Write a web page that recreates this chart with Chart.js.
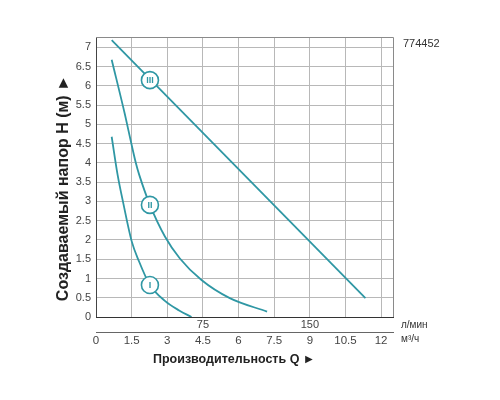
<!DOCTYPE html>
<html><head><meta charset="utf-8">
<script src="https://cdn.jsdelivr.net/npm/chart.js@4/dist/chart.umd.min.js"></script>
<style>html,body{margin:0;padding:0;background:#fff}#wrap{width:500px;height:400px}</style>
</head><body><div id="wrap"><canvas id="c" width="500" height="400"></canvas></div>
<script>
// ---- data ----
const qTicks = [0, 1.5, 3, 4.5, 6, 7.5, 9, 10.5, 12];          // m³/h
const hTicks = [0, 0.5, 1, 1.5, 2, 2.5, 3, 3.5, 4, 4.5, 5, 5.5, 6, 6.5, 7];
const lpmTicks = [75, 150];                                      // l/min
const qMax = 12.5;
const hMax = 7.27;

const curve1Q = [0.66, 0.91, 1.15, 1.5, 1.8, 2.27, 2.9, 3.5, 4.02];
const curve1H = [4.68, 3.69, 2.95, 1.97, 1.46, 0.83, 0.42, 0.17, 0.0];

const curve2Q = [0.66, 1.22, 1.36, 1.68, 1.82, 2.27, 2.9, 3.53, 4.44, 5.63, 7.2];
const curve2H = [6.68, 5.25, 4.86, 3.99, 3.69, 2.91, 2.09, 1.52, 0.96, 0.49, 0.14];

const curve3Q = [0.66, 11.34];
const curve3H = [7.19, 0.49];

const markerNames = ['I', 'II', 'III'];
const markerQ = [2.27, 2.27, 2.27];
const markerH = [0.83, 2.91, 6.15];

const modelCode = '774452';
const unitLpm = 'л/мин';
const unitM3h = 'м³/ч';
const xTitle = 'Производительность Q ►';
const yTitle = 'Создаваемый напор H (м) ►';

// ---- styles ----
const TEAL = '#2f97a4';
const GRID = '#b8b8b8';
const FONT = "'Liberation Sans', Arial, sans-serif";
const NB = '\u00a0';

const pts = (qs, hs) => qs.map((q, i) => ({x: q, y: hs[i]}));
const hideZero = c => (c.tick && c.tick.value === 0) ? 'rgba(0,0,0,0)' : GRID;

const extras = {
  id: 'extras',
  beforeDatasetsDraw(chart) {
    const {ctx, chartArea: a} = chart;
    ctx.save();
    ctx.strokeStyle = '#8a8a8a';
    ctx.lineWidth = 1;
    ctx.beginPath();
    ctx.moveTo(a.left, a.top + 0.5);
    ctx.lineTo(a.right + 0.5, a.top + 0.5);
    ctx.lineTo(a.right + 0.5, a.bottom);
    ctx.stroke();
    ctx.restore();
  },
  afterDraw(chart) {
    const {ctx, chartArea: a} = chart;
    ctx.save();
    const meta = chart.getDatasetMeta(0);
    ctx.fillStyle = TEAL;
    ctx.font = "bold 9px " + FONT;
    ctx.textAlign = 'center';
    ctx.textBaseline = 'middle';
    meta.data.forEach((el, i) => {
      ctx.fillText(markerNames[i], el.x, el.y + 0.5);
    });
    ctx.fillStyle = '#333';
    ctx.textAlign = 'left';
    ctx.font = "11px " + FONT;
    ctx.fillText(modelCode, a.right + 10, a.top + 7);
    const xl = chart.scales.xl, x = chart.scales.x;
    ctx.font = "10px " + FONT;
    ctx.fillText(unitLpm, a.right + 8, xl.top + 8);
    ctx.fillText(unitM3h, a.right + 8, x.top + 7);
    ctx.restore();
  }
};

const lineDs = (label, data, curved) => ({
  label, data, showLine: true, order: 1, xAxisID: 'x', yAxisID: 'y',
  borderColor: TEAL, borderWidth: 1.8, pointRadius: 0,
  cubicInterpolationMode: curved ? 'monotone' : 'default'
});

new Chart(document.getElementById('c'), {
  type: 'scatter',
  data: {
    datasets: [
      {
        label: 'markers', data: pts(markerQ, markerH), showLine: false, order: 0,
        xAxisID: 'x', yAxisID: 'y',
        pointRadius: 8.5, pointHoverRadius: 8.5, pointBackgroundColor: '#fff',
        pointBorderColor: TEAL, pointBorderWidth: 1.6
      },
      lineDs('I', pts(curve1Q, curve1H), true),
      lineDs('II', pts(curve2Q, curve2H), true),
      lineDs('III', pts(curve3Q, curve3H), false)
    ]
  },
  options: {
    responsive: false,
    animation: false,
    devicePixelRatio: 1,
    layout: {padding: {left: 0, top: 37, right: 107, bottom: 33}},
    plugins: {legend: {display: false}, tooltip: {enabled: false}},
    scales: {
      y: {
        type: 'linear', position: 'left', min: 0, max: hMax,
        afterBuildTicks: s => { s.ticks = hTicks.map(v => ({value: v})); },
        afterFit: s => { s.width = 96; },
        ticks: {color: '#444', padding: 5, font: {family: FONT, size: 11}, callback: v => String(v)},
        grid: {color: hideZero, lineWidth: 1, drawTicks: false},
        border: {color: '#444', width: 1},
        title: {
          display: true, text: yTitle + NB.repeat(5), color: '#222',
          font: {family: FONT, size: 16, weight: 'bold'}, padding: {top: 54, bottom: 0}
        }
      },
      xl: {
        type: 'linear', position: 'bottom', weight: 0, min: 0, max: qMax * 1000 / 60,
        afterBuildTicks: s => { s.ticks = lpmTicks.map(v => ({value: v})); },
        afterFit: s => { s.height = 15; },
        ticks: {color: '#444', padding: 1, font: {family: FONT, size: 11}, callback: v => String(v)},
        grid: {display: false, drawTicks: false},
        border: {color: '#333', width: 1}
      },
      x: {
        type: 'linear', position: 'bottom', weight: 1, min: 0, max: qMax,
        afterBuildTicks: s => { s.ticks = qTicks.map(v => ({value: v})); },
        afterFit: s => { s.height = 35; },
        ticks: {color: '#444', padding: 2, font: {family: FONT, size: 11.5}, callback: v => String(v)},
        grid: {color: hideZero, lineWidth: 1, drawTicks: false},
        border: {color: '#666', width: 1},
        title: {
          display: true, text: xTitle + NB.repeat(6), color: '#222',
          font: {family: FONT, size: 12.5, weight: 'bold'}, padding: {top: 0, bottom: 0}
        }
      }
    }
  },
  plugins: [extras]
});
</script>
</body></html>
